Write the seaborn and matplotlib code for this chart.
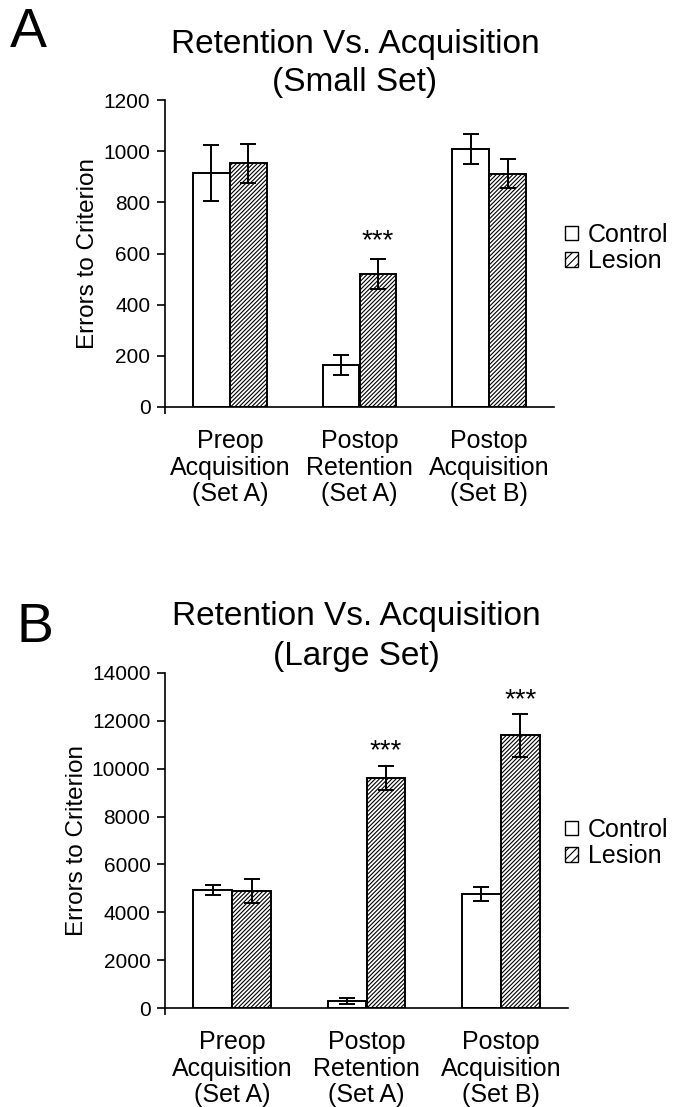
import numpy as np
import pandas as pd
import matplotlib
matplotlib.use("Agg")
import matplotlib.pyplot as plt
import seaborn as sns
from matplotlib.patches import Patch

# ---------------- data ----------------
conditions = ["Preop\nAcquisition\n(Set A)",
              "Postop\nRetention\n(Set A)",
              "Postop\nAcquisition\n(Set B)"]
groups = ["Control", "Lesion"]

small_control = [915, 166, 1008]
small_control_err = [108, 39, 60]
small_lesion = [952, 521, 912]
small_lesion_err = [75, 58, 57]
small_stars = [1]            # condition index with *** above lesion bar
small_star_y = [648]

large_control = [4930, 280, 4760]
large_control_err = [200, 130, 290]
large_lesion = [4880, 9610, 11390]
large_lesion_err = [500, 500, 880]
large_stars = [1, 2]
large_star_y = [10720, 12850]

titles = ["Retention Vs. Acquisition", "(Small Set)", "(Large Set)"]

# ---------------- style ----------------
sns.set_theme(style="ticks")
plt.rcParams["font.family"] = ["Liberation Sans", "DejaVu Sans"]
plt.rcParams["hatch.linewidth"] = 0.8
plt.rcParams["hatch.color"] = "black"
for k in ["text.color", "axes.labelcolor", "xtick.color", "ytick.color",
          "axes.edgecolor"]:
    plt.rcParams[k] = "black"

W, H = 675, 1107
fig = plt.figure(figsize=(W / 100, H / 100), dpi=100)
fig.patch.set_facecolor("white")


def rect(l, r, t, b):
    return [l / W, 1 - b / H, (r - l) / W, (b - t) / H]


axA = fig.add_axes(rect(165, 554, 100, 407))
axB = fig.add_axes(rect(165, 568, 673, 1008))

HATCH = "////////"


def draw(ax, ctrl, ctrl_err, les, les_err, ymax, step, star_idx, star_y, bw):
    df = pd.DataFrame({
        "Condition": conditions * 2,
        "Group": ["Control"] * 3 + ["Lesion"] * 3,
        "Errors": ctrl + les,
    })
    sns.barplot(data=df, x="Condition", y="Errors", hue="Group",
                order=conditions, hue_order=groups,
                palette=["white", "white"], saturation=1,
                edgecolor="black", linewidth=1.4, width=bw,
                errorbar=None, legend=False, ax=ax)
    for p in ax.containers[1]:
        p.set_hatch(HATCH)
    for cont, vals, errs in zip(ax.containers, [ctrl, les], [ctrl_err, les_err]):
        xs = [p.get_x() + p.get_width() / 2 for p in cont]
        ax.errorbar(xs, vals, yerr=errs, fmt="none", ecolor="black",
                    elinewidth=1.4, capsize=6, capthick=1.4, zorder=5)
    for i, y in zip(star_idx, star_y):
        p = ax.containers[1][i]
        ax.text(p.get_x() + p.get_width() / 2, y, "***", ha="center",
                va="center", fontsize=20, color="black")
    ax.set_xlim(-0.5, 2.5)
    ax.set_ylim(0, ymax)
    ax.set_yticks(np.arange(0, ymax + 1, step))
    ax.set_xlabel("")
    ax.set_ylabel("Errors to Criterion", fontsize=17.5, labelpad=3)
    ax.tick_params(axis="y", direction="out", length=6, width=1.2,
                   labelsize=15, pad=4.5, colors="black")
    ax.tick_params(axis="x", length=0, labelsize=18, pad=16, colors="black")
    for lab in ax.get_xticklabels():
        lab.set_linespacing(1.12)
    ax.set_xticks([-0.5], minor=True)
    ax.tick_params(axis="x", which="minor", length=5, width=1.2,
                   direction="out", color="black")
    sns.despine(ax=ax)
    for s in ["left", "bottom"]:
        ax.spines[s].set_color("black")
        ax.spines[s].set_linewidth(1.2)
    ax.set_facecolor("white")


draw(axA, small_control, small_control_err, small_lesion, small_lesion_err,
     1200, 200, small_stars, small_star_y, 0.57)
draw(axB, large_control, large_control_err, large_lesion, large_lesion_err,
     14000, 2000, large_stars, large_star_y, 0.58)

# titles and panel letters
fig.text(355 / W, 1 - 44 / H, titles[0], ha="center", va="center", fontsize=24)
fig.text(355 / W, 1 - 83 / H, titles[1], ha="center", va="center", fontsize=24)
fig.text(356 / W, 1 - 617 / H, titles[0], ha="center", va="center", fontsize=24)
fig.text(356 / W, 1 - 656 / H, titles[2], ha="center", va="center", fontsize=24)
fig.text(28 / W, 1 - 33 / H, "A", ha="center", va="center", fontsize=40)
fig.text(35 / W, 1 - 628 / H, "B", ha="center", va="center", fontsize=40)

# legends
for yc in [248, 843]:
    handles = [Patch(facecolor="white", edgecolor="black", linewidth=1.0),
               Patch(facecolor="white", edgecolor="black", linewidth=1.0,
                     hatch="////")]
    fig.legend(handles=handles, labels=groups, loc="center left",
               bbox_to_anchor=(565 / W, 1 - yc / H), frameon=False,
               fontsize=18, handlelength=0.5, handleheight=0.5,
               handletextpad=0.4, labelspacing=0.1, borderpad=0,
               borderaxespad=0)

fig.savefig("out.png", dpi=100, facecolor="white")
